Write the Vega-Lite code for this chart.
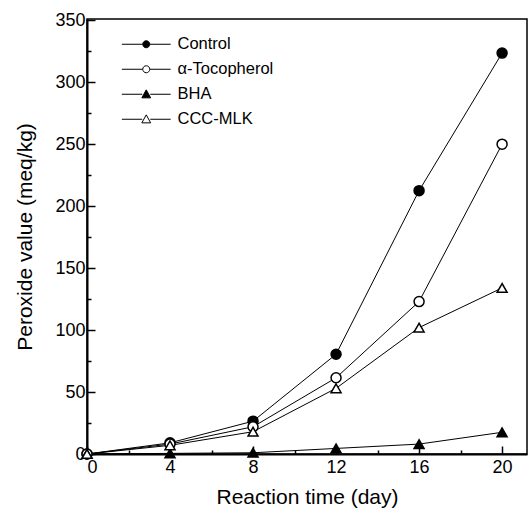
{
  "$schema": "https://vega.github.io/schema/vega-lite/v6.json",
  "width": 440,
  "height": 435,
  "autosize": "none",
  "padding": {"left": 87, "top": 19, "right": 2, "bottom": 61},
  "background": "white",
  "config": {
    "view": {"stroke": "black", "strokeWidth": 1.5},
    "font": "Liberation Sans",
    "axis": {
      "grid": false,
      "domainColor": "black",
      "domainWidth": 2,
      "tickColor": "black",
      "tickWidth": 1.5,
      "labelColor": "black",
      "labelFont": "Liberation Sans",
      "labelFontSize": 18,
      "titleColor": "black",
      "titleFont": "Liberation Sans",
      "titleFontSize": 21,
      "titleFontWeight": "normal"
    },
    "legend": {
      "title": null,
      "orient": "none",
      "legendX": 51,
      "legendY": 17,
      "padding": 0,
      "labelFont": "Liberation Sans",
      "labelFontSize": 16.5,
      "labelColor": "black",
      "labelOffset": 23,
      "rowPadding": 8,
      "symbolSize": 64,
      "symbolFillColor": "black",
      "symbolStrokeColor": "black",
      "symbolStrokeWidth": 1,
      "symbolOpacity": 1
    }
  },
  "data": {
    "values": [
      {"series": "Control", "day": 0, "pv": 0},
      {"series": "Control", "day": 4, "pv": 9},
      {"series": "Control", "day": 8, "pv": 26.5},
      {"series": "Control", "day": 12, "pv": 80.5},
      {"series": "Control", "day": 16, "pv": 212.5},
      {"series": "Control", "day": 20, "pv": 323.5},
      {"series": "α-Tocopherol", "day": 0, "pv": 0},
      {"series": "α-Tocopherol", "day": 4, "pv": 8},
      {"series": "α-Tocopherol", "day": 8, "pv": 22},
      {"series": "α-Tocopherol", "day": 12, "pv": 61.5},
      {"series": "α-Tocopherol", "day": 16, "pv": 123},
      {"series": "α-Tocopherol", "day": 20, "pv": 250},
      {"series": "BHA", "day": 0, "pv": 0},
      {"series": "BHA", "day": 4, "pv": 0.5},
      {"series": "BHA", "day": 8, "pv": 1},
      {"series": "BHA", "day": 12, "pv": 4.5},
      {"series": "BHA", "day": 16, "pv": 8},
      {"series": "BHA", "day": 20, "pv": 17.5},
      {"series": "CCC-MLK", "day": 0, "pv": 0},
      {"series": "CCC-MLK", "day": 4, "pv": 7},
      {"series": "CCC-MLK", "day": 8, "pv": 18},
      {"series": "CCC-MLK", "day": 12, "pv": 53},
      {"series": "CCC-MLK", "day": 16, "pv": 102},
      {"series": "CCC-MLK", "day": 20, "pv": 134}
    ]
  },
  "encoding": {
    "x": {
      "field": "day", "type": "quantitative",
      "scale": {"domain": [0, 21.2], "nice": false, "zero": false},
      "axis": {
        "title": "Reaction time (day)",
        "values": [0, 2, 4, 6, 8, 10, 12, 14, 16, 18, 20],
        "labelExpr": "datum.value % 4 === 0 ? datum.label : ''",
        "tickSize": {"condition": {"test": "datum.value % 4 === 0", "value": -8}, "value": -4},
        "labelPadding": 12,
        "titlePadding": 10
      }
    },
    "y": {
      "field": "pv", "type": "quantitative",
      "scale": {"domain": [0, 351], "nice": false},
      "axis": {
        "title": "Peroxide value (meq/kg)",
        "values": [0, 25, 50, 75, 100, 125, 150, 175, 200, 225, 250, 275, 300, 325, 350],
        "labelExpr": "datum.value % 50 === 0 ? datum.label : ''",
        "tickSize": {"condition": {"test": "datum.value % 50 === 0", "value": -8}, "value": -4},
        "labelPadding": 10,
        "titlePadding": 19
      }
    }
  },
  "layer": [
    {
      "mark": {"type": "line", "color": "black", "strokeWidth": 1},
      "encoding": {"detail": {"field": "series"}}
    },
    {
      "transform": [{"filter": {"field": "series", "oneOf": ["Control", "α-Tocopherol"]}}],
      "mark": {"type": "point", "shape": "circle", "filled": true, "stroke": "black", "strokeWidth": 1.5, "size": 100, "opacity": 1},
      "encoding": {
        "fill": {
          "field": "series",
          "scale": {"domain": ["Control", "α-Tocopherol", "BHA", "CCC-MLK"], "range": ["black", "white", "black", "white"]}
        }
      }
    },
    {
      "transform": [{"filter": {"field": "series", "oneOf": ["BHA", "CCC-MLK"]}}],
      "mark": {"type": "point", "shape": "triangle-up", "filled": true, "stroke": "black", "strokeWidth": 1.5, "size": 100, "opacity": 1},
      "encoding": {
        "fill": {
          "field": "series",
          "scale": {"domain": ["Control", "α-Tocopherol", "BHA", "CCC-MLK"], "range": ["black", "white", "black", "white"]}
        }
      }
    },
    {
      "mark": {"type": "point", "filled": true, "stroke": "black", "opacity": 0, "size": 64},
      "encoding": {
        "fill": {
          "field": "series",
          "scale": {"domain": ["Control", "α-Tocopherol", "BHA", "CCC-MLK"], "range": ["black", "white", "black", "white"]}
        },
        "shape": {
          "field": "series",
          "scale": {
            "domain": ["Control", "α-Tocopherol", "BHA", "CCC-MLK"],
            "range": [
              "M-6.1,0H-0.9M0.9,0H6.1M-0.875,0A0.875,0.875,0,1,1,0.875,0A0.875,0.875,0,1,1,-0.875,0Z",
              "M-6.1,0H-0.9M0.9,0H6.1M-0.875,0A0.875,0.875,0,1,1,0.875,0A0.875,0.875,0,1,1,-0.875,0Z",
              "M-6.1,0H-1M1,0H6.1M-1.1,0.9L1.1,0.9L0,-1.1Z",
              "M-6.1,0H-1M1,0H6.1M-1.1,0.9L1.1,0.9L0,-1.1Z"
            ]
          }
        }
      }
    }
  ]
}
